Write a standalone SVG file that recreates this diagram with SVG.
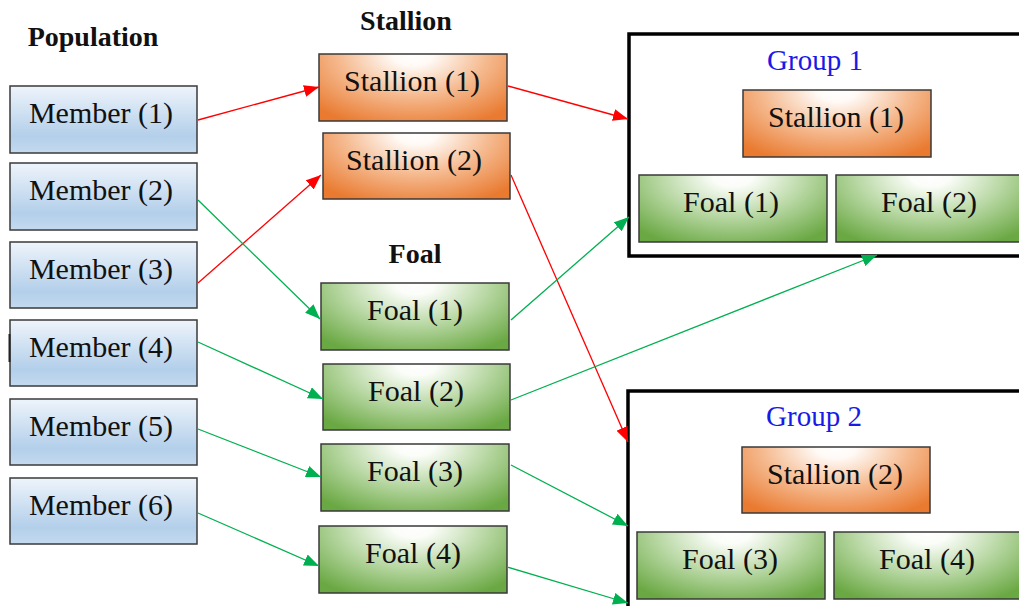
<svg xmlns="http://www.w3.org/2000/svg" width="1019" height="606" viewBox="0 0 1019 606">
  <defs>
    <linearGradient id="gBlue" x1="0" y1="0" x2="0" y2="1">
      <stop offset="0" stop-color="#eef4fb"/>
      <stop offset="0.75" stop-color="#b3cfea"/>
      <stop offset="1" stop-color="#c4daef"/>
    </linearGradient>
    <radialGradient id="gOrange" cx="0.5" cy="0" r="1" gradientTransform="translate(0.5 0) scale(0.72 1.15) translate(-0.5 0)">
      <stop offset="0" stop-color="#ffffff"/>
      <stop offset="0.15" stop-color="#fffaf6"/>
      <stop offset="0.55" stop-color="#f5b98e"/>
      <stop offset="1" stop-color="#e97a30"/>
    </radialGradient>
    <radialGradient id="gGreen" cx="0.5" cy="0" r="1" gradientTransform="translate(0.5 0) scale(0.72 1.15) translate(-0.5 0)">
      <stop offset="0" stop-color="#ffffff"/>
      <stop offset="0.15" stop-color="#fbfdf9"/>
      <stop offset="0.55" stop-color="#b7d7a2"/>
      <stop offset="1" stop-color="#6aa843"/>
    </radialGradient>
    <marker id="arrRed" markerUnits="userSpaceOnUse" markerWidth="16" markerHeight="12" refX="15" refY="6" orient="auto">
      <path d="M0,0 L15,6 L0,12 z" fill="#ff0000"/>
    </marker>
    <marker id="arrGreen" markerUnits="userSpaceOnUse" markerWidth="16" markerHeight="12" refX="15" refY="6" orient="auto">
      <path d="M0,0 L15,6 L0,12 z" fill="#00b050"/>
    </marker>
  </defs>
  <style>
    .box { stroke: #3a3a3a; stroke-width: 1.5; }
    .member { fill: url(#gBlue); }
    .stallion { fill: url(#gOrange); }
    .foal { fill: url(#gGreen); }
    .lbl { font-family: "Liberation Serif", "Times New Roman", serif; font-size: 30px; fill: #111; text-anchor: middle; }
    .head { font-family: "Liberation Serif", "Times New Roman", serif; font-size: 28px; font-weight: bold; fill: #111; text-anchor: middle; }
    .glbl { font-family: "Liberation Serif", "Times New Roman", serif; font-size: 29px; fill: #1a1ae6; text-anchor: middle; }
    .group { fill: #ffffff; stroke: #000; stroke-width: 3.5; }
    .red { stroke: #ff0000; stroke-width: 1.3; fill: none; marker-end: url(#arrRed); }
    .green { stroke: #00b050; stroke-width: 1.3; fill: none; marker-end: url(#arrGreen); }
  </style>

  <rect width="1019" height="606" fill="#ffffff"/>

  <!-- column headings -->
  <text class="head" x="93" y="46">Population</text>
  <text class="head" x="406" y="30">Stallion</text>
  <text class="head" x="415" y="263">Foal</text>

  <!-- group containers -->
  <g id="group1">
    <rect class="group" x="629" y="34" width="400" height="222"/>
    <text class="glbl" x="815" y="70">Group 1</text>
  </g>
  <g id="group2">
    <rect class="group" x="628" y="391" width="400" height="240"/>
    <text class="glbl" x="814" y="426">Group 2</text>
  </g>

  <!-- population members -->
  <g id="member1"><rect class="box member" x="10" y="86" width="187" height="67"/><text class="lbl" x="101" y="123">Member (1)</text></g>
  <g id="member2"><rect class="box member" x="10" y="163" width="187" height="67"/><text class="lbl" x="101" y="200">Member (2)</text></g>
  <g id="member3"><rect class="box member" x="10" y="242" width="187" height="66"/><text class="lbl" x="101" y="279">Member (3)</text></g>
  <g id="member4"><rect class="box member" x="10" y="320" width="187" height="66"/><text class="lbl" x="101" y="357">Member (4)</text><line x1="9.5" y1="334" x2="9.5" y2="362" stroke="#222" stroke-width="2"/></g>
  <g id="member5"><rect class="box member" x="10" y="399" width="187" height="66"/><text class="lbl" x="101" y="436">Member (5)</text></g>
  <g id="member6"><rect class="box member" x="10" y="478" width="187" height="66"/><text class="lbl" x="101" y="515">Member (6)</text></g>

  <!-- stallions -->
  <g id="stallion1"><rect class="box stallion" x="319" y="54" width="188" height="67"/><text class="lbl" x="412" y="91">Stallion (1)</text></g>
  <g id="stallion2"><rect class="box stallion" x="323" y="133" width="187" height="66"/><text class="lbl" x="414" y="170">Stallion (2)</text></g>

  <!-- foals -->
  <g id="foal1"><rect class="box foal" x="321" y="283" width="188" height="67"/><text class="lbl" x="415" y="320">Foal (1)</text></g>
  <g id="foal2"><rect class="box foal" x="323" y="364" width="187" height="66"/><text class="lbl" x="416" y="401">Foal (2)</text></g>
  <g id="foal3"><rect class="box foal" x="321" y="444" width="188" height="67"/><text class="lbl" x="415" y="481">Foal (3)</text></g>
  <g id="foal4"><rect class="box foal" x="319" y="526" width="188" height="67"/><text class="lbl" x="413" y="563">Foal (4)</text></g>

  <!-- group 1 members -->
  <g id="g1-stallion1"><rect class="box stallion" x="743" y="90" width="188" height="67"/><text class="lbl" x="836" y="127">Stallion (1)</text></g>
  <g id="g1-foal1"><rect class="box foal" x="639" y="175" width="188" height="67"/><text class="lbl" x="731" y="212">Foal (1)</text></g>
  <g id="g1-foal2"><rect class="box foal" x="836" y="175" width="188" height="67"/><text class="lbl" x="929" y="212">Foal (2)</text></g>

  <!-- group 2 members -->
  <g id="g2-stallion2"><rect class="box stallion" x="742" y="447" width="188" height="66"/><text class="lbl" x="835" y="484">Stallion (2)</text></g>
  <g id="g2-foal3"><rect class="box foal" x="637" y="532" width="188" height="67"/><text class="lbl" x="730" y="569">Foal (3)</text></g>
  <g id="g2-foal4"><rect class="box foal" x="834" y="532" width="188" height="67"/><text class="lbl" x="927" y="569">Foal (4)</text></g>

  <!-- connectors -->
  <g id="connectors">
    <line class="red" x1="198" y1="120" x2="319" y2="87"/>
    <line class="red" x1="198" y1="283" x2="321" y2="175"/>
    <line class="red" x1="508" y1="86" x2="628" y2="119"/>
    <line class="red" x1="511" y1="175" x2="628" y2="442"/>
    <line class="green" x1="198" y1="200" x2="320" y2="319"/>
    <line class="green" x1="198" y1="342" x2="323" y2="399"/>
    <line class="green" x1="198" y1="429" x2="321" y2="477"/>
    <line class="green" x1="198" y1="513" x2="319" y2="566"/>
    <line class="green" x1="511" y1="320" x2="629" y2="217"/>
    <line class="green" x1="511" y1="400" x2="877" y2="255"/>
    <line class="green" x1="511" y1="465" x2="628" y2="526"/>
    <line class="green" x1="507" y1="567" x2="628" y2="603"/>
  </g>
</svg>
